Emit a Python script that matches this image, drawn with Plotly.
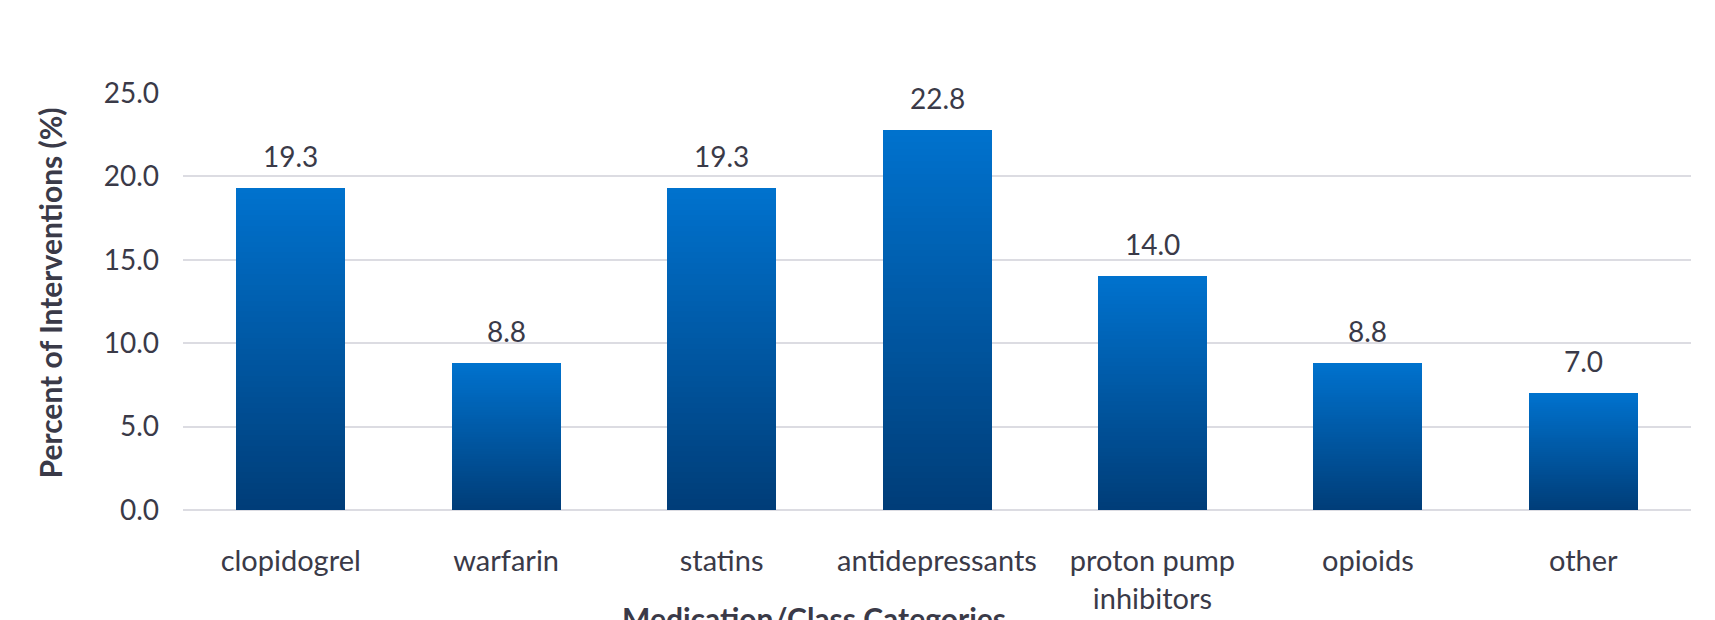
import plotly.graph_objects as go

categories = ["clopidogrel", "warfarin", "statins", "antidepressants",
              "proton pump<br>inhibitors", "opioids", "other"]
values = [19.3, 8.8, 19.3, 22.8, 14.0, 8.8, 7.0]
y_ticks = [0, 5, 10, 15, 20, 25]

FONT = "Lato"
TXT = "#3a3a48"
TOP = (0, 114, 206)
BOT = (0, 61, 120)
N = 60

fig = go.Figure()
for k in range(N):
    f = (k + 0.5) / N
    c = tuple(round(BOT[i] + (TOP[i] - BOT[i]) * f) for i in range(3))
    fig.add_trace(go.Bar(
        x=categories, y=[v / N for v in values],
        marker=dict(color="rgb(%d,%d,%d)" % c, line=dict(width=0)),
        showlegend=False, hoverinfo="skip"))

for cat, v in zip(categories, values):
    fig.add_annotation(x=cat, y=v, text="%.1f" % v, showarrow=False,
                       yanchor="bottom", yshift=13,
                       font=dict(family=FONT, size=28, color=TXT))

fig.add_annotation(text="<b>Percent of Interventions (%)</b>", xref="paper", yref="paper",
                   x=-0.088, y=0.52, xanchor="center", yanchor="middle",
                   textangle=-90, showarrow=False,
                   font=dict(family=FONT, size=30, color=TXT))
fig.add_annotation(text="<b>Medication/Class Categories</b>", xref="paper", yref="paper",
                   x=0.4184, y=-0.212, xanchor="center", yanchor="top", showarrow=False,
                   font=dict(family=FONT, size=30, color=TXT))

fig.update_layout(
    width=1715, height=620,
    margin=dict(l=175, r=32, t=85, b=118),
    barmode="stack", bargap=0.494,
    plot_bgcolor="white", paper_bgcolor="white",
    font=dict(family=FONT, color=TXT),
)
fig.update_xaxes(showgrid=False, showline=False, ticks="", automargin=False,
                 tickfont=dict(family=FONT, size=29, color=TXT),
                 ticklabelstandoff=31)
fig.update_yaxes(range=[0, 25], tickvals=y_ticks, tickformat=".1f", automargin=False,
                 showgrid=True, gridcolor="#dcdce2", gridwidth=1.5,
                 zeroline=True, zerolinecolor="#dcdce2", zerolinewidth=1.5,
                 showline=False, ticks="",
                 tickfont=dict(family=FONT, size=28, color=TXT),
                 ticklabelstandoff=23)

fig.write_html("out.html")
